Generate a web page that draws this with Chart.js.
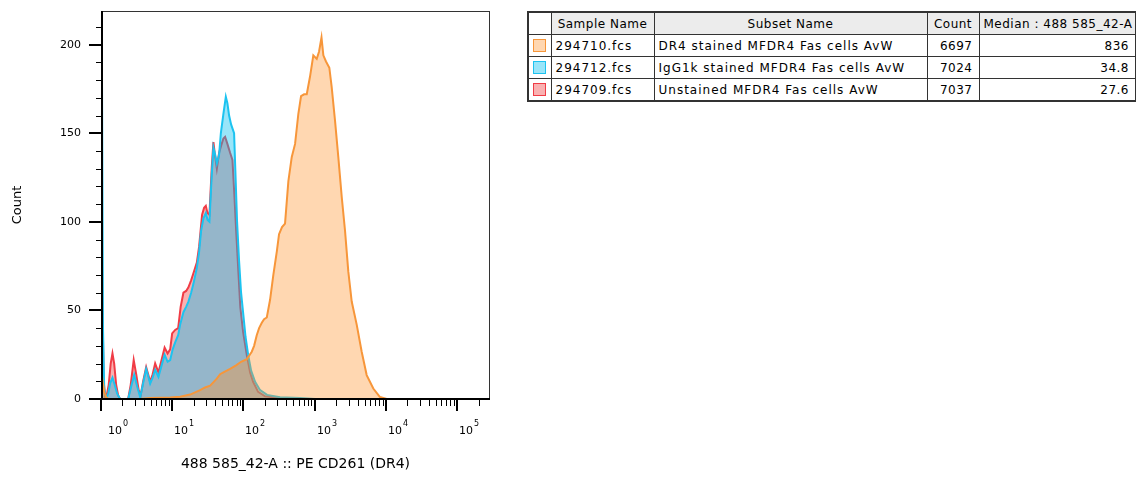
<!DOCTYPE html>
<html>
<head>
<meta charset="utf-8">
<script src="https://cdn.jsdelivr.net/npm/chart.js@4.4.1/dist/chart.umd.min.js"></script>
<style>
  html, body { margin: 0; padding: 0; background: #fff; }
  #chartBox { position: absolute; left: 0; top: 0; width: 500px; height: 477px; }
  #stats { position: absolute; left: 527px; top: 11px; width: 608px; border-collapse: collapse; table-layout: fixed;
           font: 12px "DejaVu Sans", sans-serif; color: #000; border: 2px solid #333; }
  #stats th, #stats td { border: 1px solid #333; padding: 0 4px; height: 21px; white-space: nowrap; overflow: hidden; font-weight: normal; letter-spacing: 1px; }
  #stats th { background: #ececec; text-align: center; letter-spacing: 0.5px; }
  #stats th.blank { background: #fff; }
  #stats td.num { text-align: right; padding-right: 6px; letter-spacing: 0.5px; }
  .swatch { width: 11px; height: 11px; border: 1.5px solid; margin: 0 auto; }
</style>
</head>
<body>
<div id="chartBox"><canvas id="histo"></canvas></div>
<table id="stats">
  <colgroup><col style="width:23px"><col style="width:103px"><col style="width:273px"><col style="width:52px"><col style="width:157px"></colgroup>
  <thead><tr><th class="blank"></th><th>Sample Name</th><th>Subset Name</th><th>Count</th><th>Median : 488 585_42-A</th></tr></thead>
  <tbody id="statsBody"></tbody>
</table>
<script>
document.addEventListener("DOMContentLoaded", () => {

    // x values are log10 of fluorescence intensity (decades), y values are counts
    const orangeX = [0, 0.017, 0.045, 0.073, 0.101, 0.55, 0.69, 0.971, 1.111, 1.251, 1.391, 1.461, 1.532, 1.626, 1.672, 1.718, 1.812, 1.896, 1.966, 2.046, 2.116, 2.149, 2.186, 2.219, 2.257, 2.289, 2.327, 2.373, 2.419, 2.467, 2.499, 2.541, 2.583, 2.63, 2.677, 2.724, 2.77, 2.808, 2.85, 2.888, 2.934, 2.98, 3.028, 3.06, 3.095, 3.121, 3.158, 3.205, 3.238, 3.285, 3.331, 3.379, 3.425, 3.471, 3.519, 3.589, 3.659, 3.729, 3.822, 3.916, 4.01];
    const orangeY = [20, 12, 4, 1, 0, 0, 0.5, 0.8, 1.3, 2.5, 5, 6.5, 7.5, 11.5, 14, 15, 17, 19, 21, 22.5, 26.7, 30, 36, 40, 43, 45, 46, 56, 70, 83, 93, 97, 99, 123, 136.5, 144, 161, 171, 172, 172, 182, 194, 192, 196, 204, 194, 190.5, 187, 176, 157, 136.5, 114, 95, 72, 55, 42, 26.7, 13.5, 5.9, 1.1, 0];

    const blueX = [0, 0.014, 0.028, 0.045, 0.073, 0.101, 0.129, 0.161, 0.192, 0.227, 0.269, 0.381, 0.424, 0.466, 0.508, 0.55, 0.592, 0.634, 0.662, 0.69, 0.725, 0.76, 0.806, 0.844, 0.893, 0.935, 0.971, 1.006, 1.041, 1.083, 1.111, 1.157, 1.195, 1.227, 1.265, 1.297, 1.345, 1.377, 1.405, 1.438, 1.471, 1.496, 1.522, 1.555, 1.578, 1.602, 1.626, 1.658, 1.682, 1.718, 1.752, 1.774, 1.798, 1.826, 1.868, 1.889, 1.91, 1.938, 1.966, 1.994, 2.029, 2.065, 2.107, 2.163, 2.233, 2.331, 2.513, 2.794, 3.004];
    const blueY = [211, 180, 40, 6, 0, 3, 9, 12, 8, 3, 0, 0, 7, 13.6, 7, 1, 9, 17, 13, 8.7, 12, 16.5, 12.5, 18, 25, 21, 22, 28, 32, 36, 42, 49, 52, 55, 60, 65, 74, 83, 95, 102, 105, 101, 100, 127, 142, 138, 133, 138, 150, 161, 170.6, 167, 160, 155, 150, 125, 100, 78, 60, 49, 35, 25, 16, 9.7, 5, 2.3, 1, 0.5, 0];

    const redX = [0, 0.017, 0.038, 0.059, 0.073, 0.108, 0.136, 0.161, 0.185, 0.213, 0.241, 0.269, 0.381, 0.417, 0.459, 0.494, 0.529, 0.557, 0.592, 0.634, 0.662, 0.69, 0.725, 0.76, 0.806, 0.844, 0.893, 0.935, 0.971, 0.999, 1.041, 1.083, 1.118, 1.157, 1.195, 1.227, 1.265, 1.297, 1.345, 1.377, 1.398, 1.419, 1.447, 1.471, 1.494, 1.522, 1.555, 1.578, 1.595, 1.626, 1.658, 1.686, 1.718, 1.742, 1.774, 1.812, 1.845, 1.872, 1.897, 1.924, 1.955, 1.994, 2.046, 2.093, 2.135, 2.205, 2.303, 2.513, 2.794];
    const redY = [150, 60, 10, 1, 0.5, 8, 20, 25.7, 20, 8, 2, 0, 0, 8, 22, 14, 5, 2, 10, 18, 14, 9.7, 14, 20, 15, 21, 29, 25.7, 28, 37, 39, 40, 52, 60, 61, 63, 67, 71, 77, 86, 95, 104, 108, 109, 105, 104, 131, 145, 139, 130, 139, 143, 147, 148, 144, 139, 135, 115, 95, 75, 52, 38, 25, 15, 9.7, 4, 1.5, 0.5, 0];

    const decadeTicks = [0, 1, 2, 3, 4, 5];
    const countLabelStep = 50;

    const sampleNames = ["294710.fcs", "294712.fcs", "294709.fcs"];
    const subsetNames = ["DR4 stained MFDR4 Fas cells AvW", "IgG1k stained MFDR4 Fas cells AvW", "Unstained MFDR4 Fas cells AvW"];
    const eventCounts = [6697, 7024, 7037];
    const medians = ["836", "34.8", "27.6"];

    const lineColors = ["#F7963A", "#1CC3F0", "#F03C46"];
    const fillColors = ["rgba(255,150,50,0.38)", "rgba(0,190,240,0.4)", "rgba(240,60,60,0.4)"];

    // stats table (acts as the legend)
    const body = document.getElementById("statsBody");
    sampleNames.forEach((name, i) => {
        body.innerHTML += `<tr>
            <td style="padding:0"><div class="swatch" style="border-color:${lineColors[i]};background:${fillColors[i]}"></div></td>
            <td>${name}</td>
            <td>${subsetNames[i]}</td>
            <td class="num">${eventCounts[i]}</td>
            <td class="num">${medians[i]}</td>
        </tr>`;
    });

    const pts = (xs, ys) => xs.map((x, i) => ({ x: x, y: ys[i] }));
    const series = [pts(orangeX, orangeY), pts(blueX, blueY), pts(redX, redY)];

    const axisMarks = {
        id: "axisMarks",
        afterDraw(chart) {
            const { ctx, chartArea: a, scales: { x, y } } = chart;
            ctx.save();
            ctx.strokeStyle = "#000";
            // y tick marks
            y.ticks.forEach(t => {
                const major = t.value % countLabelStep === 0;
                const py = major ? Math.round(y.getPixelForValue(t.value)) : Math.round(y.getPixelForValue(t.value)) + 0.5;
                ctx.lineWidth = major ? 2 : 1;
                ctx.beginPath();
                ctx.moveTo(a.left - (major ? 12 : 5), py);
                ctx.lineTo(a.left, py);
                ctx.stroke();
            });
            // x tick marks and labels
            x.ticks.forEach(t => {
                const px = Math.round(x.getPixelForValue(t.value));
                ctx.lineWidth = t.major ? 2 : 1;
                ctx.beginPath();
                ctx.moveTo(t.major ? px : px + 0.5, a.bottom);
                ctx.lineTo(t.major ? px : px + 0.5, a.bottom + (t.major ? 12 : 7));
                ctx.stroke();
                if (t.major) {
                    const lx = t.value === 0 ? px + 7 : px + 2;
                    ctx.fillStyle = "#000";
                    ctx.textAlign = "left";
                    ctx.textBaseline = "alphabetic";
                    ctx.font = "11px 'DejaVu Sans'";
                    ctx.fillText("10", lx, a.bottom + 35);
                    const w = ctx.measureText("10").width;
                    ctx.font = "8px 'DejaVu Sans'";
                    ctx.fillText(String(Math.round(t.value)), lx + w + 1, a.bottom + 27);
                }
            });
            // frame
            ctx.lineWidth = 1;
            ctx.strokeStyle = "#333";
            ctx.strokeRect(a.left + 0.5, a.top + 0.5, a.right - a.left - 1, a.bottom - a.top);
            ctx.lineWidth = 2;
            ctx.strokeStyle = "#000";
            ctx.beginPath();
            ctx.moveTo(a.left + 1, a.top);
            ctx.lineTo(a.left + 1, a.bottom);
            ctx.lineTo(a.right, a.bottom);
            ctx.stroke();
            ctx.restore();
        }
    };

    new Chart(document.getElementById("histo"), {
        type: "line",
        data: {
            datasets: series.map((d, i) => ({
                label: sampleNames[i],
                data: d,
                borderColor: lineColors[i],
                backgroundColor: fillColors[i],
                borderWidth: 2,
                fill: "origin",
                pointRadius: 0,
                tension: 0
            }))
        },
        options: {
            responsive: true,
            maintainAspectRatio: false,
            animation: false,
            layout: { padding: { top: 11, right: 10, left: 0, bottom: 0 } },
            plugins: { legend: { display: false }, tooltip: { enabled: false } },
            scales: {
                x: {
                    type: "linear",
                    min: 0,
                    max: 5.46,
                    grid: { display: false, drawTicks: false },
                    border: { display: false },
                    ticks: { display: false },
                    afterBuildTicks: s => {
                        const t = [];
                        decadeTicks.forEach(d => {
                            for (let k = 1; k <= 9; k++) {
                                const v = d + Math.log10(k);
                                if (v <= s.max) t.push({ value: v, major: k === 1 });
                            }
                        });
                        s.ticks = t;
                    },
                    afterFit: s => { s.height = 78; s.paddingLeft = 0; s.paddingRight = 0; },
                    title: {
                        display: true,
                        text: "488 585_42-A :: PE CD261 (DR4)",
                        color: "#000",
                        font: { family: "DejaVu Sans", size: 14 },
                        padding: { top: 0, bottom: 4 }
                    }
                },
                y: {
                    min: 0,
                    max: 219,
                    grid: { display: false, drawTicks: false },
                    border: { display: false },
                    ticks: {
                        stepSize: 10,
                        includeBounds: false,
                        autoSkip: false,
                        padding: 20,
                        color: "#000",
                        font: { family: "DejaVu Sans", size: 11 },
                        callback: v => (v % countLabelStep === 0 ? String(v) : "")
                    },
                    afterFit: s => { s.width = 101; s.paddingTop = 0; s.paddingBottom = 0; },
                    title: {
                        display: true,
                        text: "Count",
                        color: "#000",
                        font: { family: "DejaVu Sans", size: 13 },
                        padding: { top: 10, bottom: 0 }
                    }
                }
            }
        },
        plugins: [axisMarks]
    });
});
</script>
</body>
</html>
